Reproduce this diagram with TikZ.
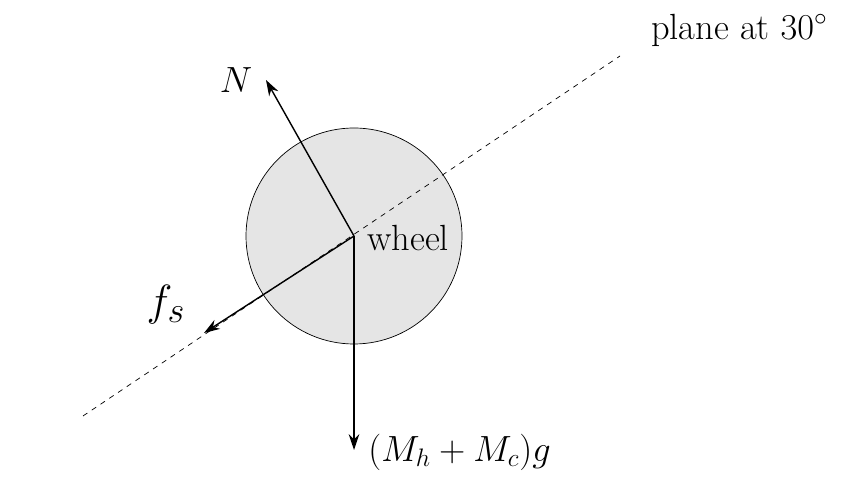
\documentclass[tikz,border=0pt]{standalone}
\usetikzlibrary{arrows.meta}
\begin{document}
\begin{tikzpicture}[x=0.02cm,y=-0.02cm,
		force/.style={-{Stealth[length=9pt,width=6pt]},thick},
		lbl/.style={font=\huge}
	]
	\useasboundingbox (0,0) rectangle (862,492);
	\node[circle,draw,fill=gray!20,minimum size=216*0.02cm,inner sep=0pt] (wheel) at (354,236) {};
	\coordinate (p1) at (83,416);
	\coordinate (p2) at (620,56);
	\draw[dashed] (p1) -- (p2);
	\coordinate (c) at (354,236);
	\coordinate (n) at (266,80);
	\coordinate (f) at (204,333);
	\coordinate (g) at (354,450);
	\draw[force] (c) -- (n);
	\draw[force] (c) -- (f);
	\draw[force] (c) -- (g);
	\node[lbl] (lN) at (236,80) {$N$};
	\node[font=\fontsize{28}{30}\selectfont] (lf) at (166,305) {$f_s$};
	\node[lbl,anchor=west,inner sep=0pt] (lg) at (368,452) {$(M_h+M_c)g$};
	\node[lbl,anchor=west,inner sep=0pt] (lw) at (367,238) {wheel};
	\node[lbl,anchor=east,inner sep=0pt] (lp) at (828,30) {plane at $30^\circ$};
\end{tikzpicture}
\end{document}
